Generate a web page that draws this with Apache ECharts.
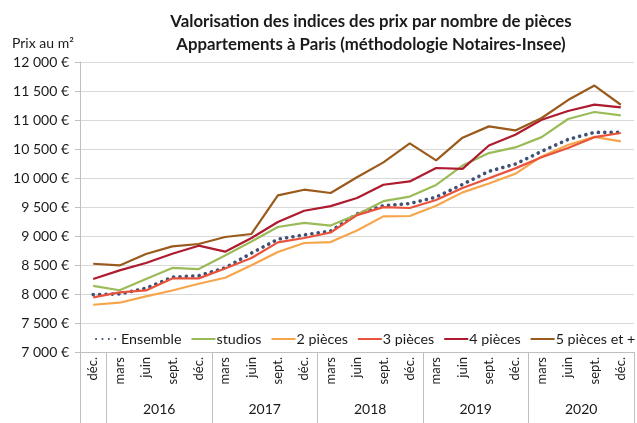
<!DOCTYPE html>
<html><head><meta charset="utf-8">
<script src="https://cdn.jsdelivr.net/npm/echarts@6/dist/echarts.min.js"></script>
<style>html,body{margin:0;padding:0;background:#fff}#c{width:637px;height:423px}</style>
</head><body><div id="c"></div>
<script>
const months = ['déc.','mars','juin','sept.','déc.','mars','juin','sept.','déc.','mars','juin','sept.','déc.','mars','juin','sept.','déc.','mars','juin','sept.','déc.'];
const years = ['2016','2017','2018','2019','2020'];
const yTicks = {min: 7000, max: 12000, step: 500};
const ensemble = [7990, 8000, 8100, 8290, 8315, 8450, 8705, 8945, 9020, 9085, 9380, 9522, 9560, 9670, 9890, 10115, 10240, 10460, 10665, 10786, 10786];
const studios  = [8140, 8065, 8260, 8450, 8430, 8665, 8905, 9155, 9225, 9180, 9370, 9600, 9680, 9880, 10215, 10430, 10527, 10705, 11017, 11138, 11080];
const deux     = [7815, 7850, 7960, 8060, 8177, 8280, 8495, 8724, 8879, 8896, 9095, 9338, 9345, 9522, 9752, 9905, 10072, 10372, 10568, 10710, 10631];
const trois    = [7942, 8028, 8062, 8269, 8269, 8440, 8620, 8890, 8965, 9060, 9360, 9497, 9483, 9620, 9827, 9995, 10166, 10358, 10517, 10704, 10776];
const quatre   = [8258, 8407, 8534, 8695, 8833, 8730, 8965, 9241, 9436, 9515, 9655, 9884, 9941, 10172, 10158, 10560, 10746, 11005, 11155, 11266, 11217];
const cinq     = [8522, 8493, 8690, 8821, 8862, 8983, 9035, 9700, 9798, 9741, 10012, 10269, 10597, 10303, 10695, 10890, 10821, 11034, 11344, 11594, 11263];
const names = ['Ensemble','studios','2 pièces','3 pièces','4 pièces','5 pièces et +'];

// year axis: boundary slots (22 points on category boundaries)
const yearSlots = [];
const yearTickIdx = [0];
for (let k = 0; k <= months.length; k++) yearSlots.push('');
years.forEach((y, j) => { yearSlots[1 + 4*j + 2] = y; yearTickIdx.push(1 + 4*j); });
yearTickIdx.push(months.length);

const FONT = 'Lato, "Open Sans", sans-serif';
const TXT = '#1a1a1a';
const chart = echarts.init(document.getElementById('c'), null, {renderer: 'canvas'});
const mk = (name, data, color, extra) => Object.assign({
  name, type: 'line', data, symbol: 'none', smooth: false, animation: false,
  lineStyle: Object.assign({color, width: 2.2}, extra || {}), itemStyle: {color}
});
chart.setOption({
  animation: false,
  textStyle: {fontFamily: FONT},
  title: {
    text: 'Valorisation des indices des prix par nombre de pièces\nAppartements à Paris (méthodologie Notaires-Insee)',
    left: 366, top: 5, textAlign: 'center',
    textStyle: {fontFamily: FONT, fontSize: 16.8, fontWeight: 'bold', color: TXT, lineHeight: 23}
  },
  legend: {
    left: 90, top: 327, width: 900, itemWidth: 24, itemHeight: 12, itemGap: 9,
    itemStyle: {opacity: 0},
    textStyle: {fontFamily: FONT, fontSize: 14.3, color: TXT, padding: [0,0,0,-4]},
    data: names
  },
  grid: {left: 80, top: 62, width: 567, height: 290, containLabel: false},
  xAxis: [{
    type: 'category', data: months, boundaryGap: true, position: 'bottom',
    axisLine: {show: true, lineStyle: {color: '#BFBFBF', width: 1}},
    axisTick: {show: false},
    axisLabel: {rotate: 90, interval: 0, margin: 5, fontFamily: FONT, fontSize: 13, color: TXT},
    splitLine: {show: false}
  }, {
    type: 'category', data: yearSlots, boundaryGap: false, position: 'bottom',
    axisLine: {show: false},
    axisTick: {show: true, length: 72, interval: (i) => yearTickIdx.includes(i), lineStyle: {color: '#BFBFBF'}},
    axisLabel: {interval: 0, margin: 50, fontFamily: FONT, fontSize: 14, color: TXT},
    splitLine: {show: false}
  }],
  yAxis: {
    type: 'value', min: yTicks.min, max: yTicks.max, interval: yTicks.step,
    name: 'Prix au m²', nameLocation: 'end', nameGap: 12,
    nameTextStyle: {fontFamily: FONT, fontSize: 14, color: TXT, align: 'left', padding: [0,0,0,-68]},
    axisLine: {show: true, lineStyle: {color: '#BFBFBF'}},
    axisTick: {show: true, length: 5, lineStyle: {color: '#BFBFBF'}},
    axisLabel: {margin: 11, fontFamily: FONT, fontSize: 14, color: TXT,
      formatter: v => String(v).replace(/\B(?=(\d{3})+(?!\d))/g, ' ') + ' €'},
    splitLine: {show: true, lineStyle: {color: '#D9D9D9', width: 1}}
  },
  series: [
    mk(names[0], ensemble, '#3F5175', {width: 3.6, type: [0.1, 6.3], cap: 'round'}),
    mk(names[1], studios, '#9BBB59'),
    mk(names[2], deux, '#F6A54A'),
    mk(names[3], trois, '#E9533C'),
    mk(names[4], quatre, '#AE1A2E'),
    mk(names[5], cinq, '#9A5A1C')
  ]
});
</script></body></html>
